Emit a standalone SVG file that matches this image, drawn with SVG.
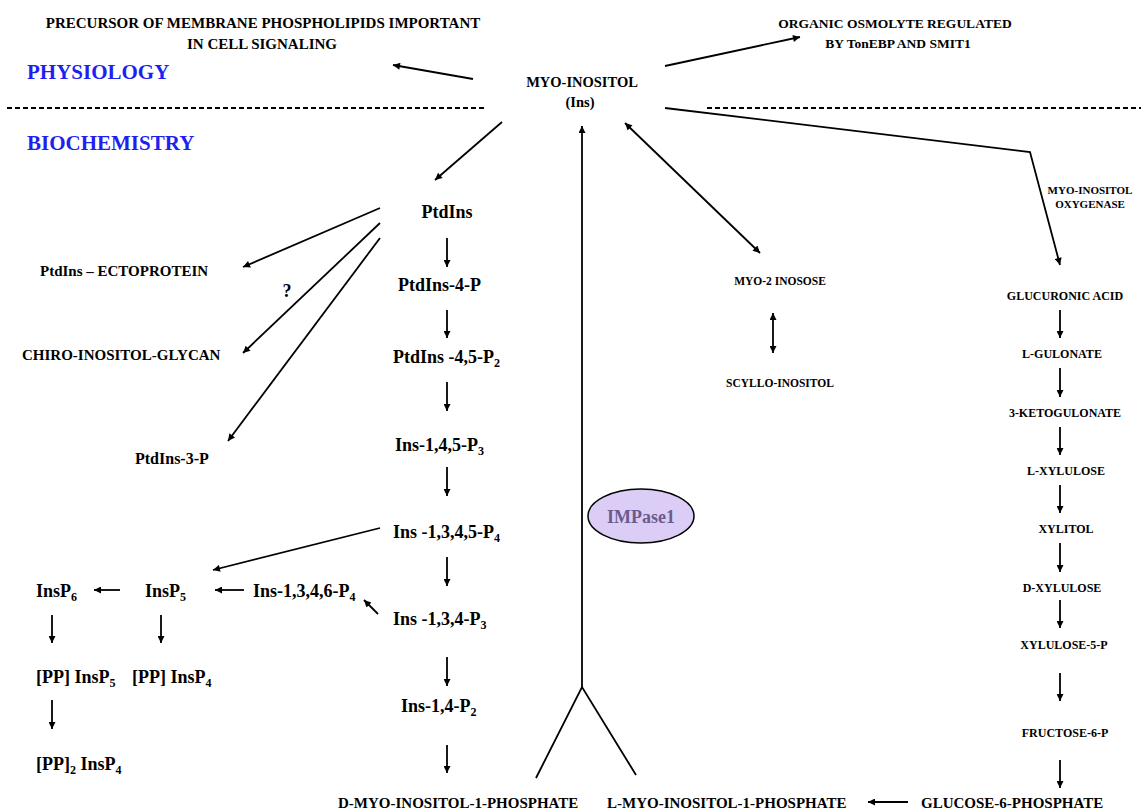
<svg xmlns="http://www.w3.org/2000/svg" width="1141" height="811" viewBox="0 0 1141 811">
<defs>
<marker id="ah" viewBox="0 0 10 10" refX="10" refY="5" markerWidth="9" markerHeight="7" markerUnits="userSpaceOnUse" orient="auto-start-reverse">
<path d="M0,0 L10,5 L0,10 z" fill="#000"/>
</marker>
<style>
text{font-family:"Liberation Serif","Times New Roman",serif;font-weight:bold;fill:#000}
.c{text-anchor:middle}
.big{font-size:18px}
.mid{font-size:15px}
.sm{font-size:12px}
.xs{font-size:11px}
.blue{fill:#1f1ff0;font-size:21px}
.sub{font-size:12px}
.ln{stroke:#000;stroke-width:1.8;fill:none}
.ar{stroke:#000;stroke-width:1.8;fill:none;marker-end:url(#ah)}
.ar2{stroke:#000;stroke-width:1.8;fill:none;marker-end:url(#ah);marker-start:url(#ah)}
.dash{stroke:#000;stroke-width:2;stroke-dasharray:5,3}
</style>
</defs>
<rect width="1141" height="811" fill="#fff"/>

<g id="sections">
<text x="27" y="79" class="blue">PHYSIOLOGY</text>
<text x="27" y="150" class="blue">BIOCHEMISTRY</text>
<line x1="7" y1="108" x2="487" y2="108" class="dash"/>
<line x1="707" y1="108" x2="1141" y2="108" class="dash"/>
</g>

<g id="connectors">
<line x1="473" y1="79" x2="393" y2="65" class="ar"/>
<line x1="665" y1="66" x2="800" y2="37" class="ar"/>
<polyline points="665,108 1030,152 1060,265" class="ar"/>
<line x1="502" y1="122" x2="435" y2="180" class="ar"/>
<line x1="625" y1="123" x2="760" y2="253" class="ar2"/>
<line x1="582" y1="687" x2="582" y2="126" class="ar"/>
<polyline points="536,778 582,687 636,775" class="ln"/>
<line x1="380" y1="208" x2="243" y2="267" class="ar"/>
<line x1="380" y1="223" x2="243" y2="353" class="ar"/>
<line x1="380" y1="238" x2="228" y2="441" class="ar"/>
<line x1="447" y1="238" x2="447" y2="267" class="ar"/>
<line x1="447" y1="310" x2="447" y2="338" class="ar"/>
<line x1="447" y1="382" x2="447" y2="411" class="ar"/>
<line x1="447" y1="467" x2="447" y2="496" class="ar"/>
<line x1="447" y1="557" x2="447" y2="586" class="ar"/>
<line x1="447" y1="657" x2="447" y2="686" class="ar"/>
<line x1="447" y1="745" x2="447" y2="773" class="ar"/>
<line x1="380" y1="528" x2="213" y2="570" class="ar"/>
<line x1="120" y1="590" x2="94" y2="590" class="ar"/>
<line x1="244" y1="590" x2="215" y2="590" class="ar"/>
<line x1="378" y1="614" x2="364" y2="600" class="ar"/>
<line x1="52" y1="615" x2="52" y2="643" class="ar"/>
<line x1="161" y1="615" x2="161" y2="643" class="ar"/>
<line x1="52" y1="700" x2="52" y2="729" class="ar"/>
<line x1="773" y1="313" x2="773" y2="353" class="ar2"/>
<line x1="1060" y1="310" x2="1060" y2="338" class="ar"/>
<line x1="1060" y1="368" x2="1060" y2="397" class="ar"/>
<line x1="1060" y1="427" x2="1060" y2="455" class="ar"/>
<line x1="1060" y1="485" x2="1060" y2="513" class="ar"/>
<line x1="1060" y1="543" x2="1060" y2="572" class="ar"/>
<line x1="1060" y1="600" x2="1060" y2="628" class="ar"/>
<line x1="1060" y1="673" x2="1060" y2="701" class="ar"/>
<line x1="1060" y1="760" x2="1060" y2="788" class="ar"/>
<line x1="908" y1="802" x2="868" y2="802" class="ar"/>
</g>

<g id="precursor"><text x="263" y="28" class="c mid">PRECURSOR OF MEMBRANE PHOSPHOLIPIDS IMPORTANT</text><text x="262" y="49" class="c mid">IN CELL SIGNALING</text></g>
<g id="osmolyte"><text x="895" y="28" class="c" font-size="13.5">ORGANIC OSMOLYTE REGULATED</text><text x="898" y="48" class="c" font-size="13.5">BY TonEBP AND SMIT1</text></g>
<g id="myo-inositol"><text x="582" y="87" class="c" font-size="14.5">MYO-INOSITOL</text><text x="580" y="107" class="c" font-size="14.5">(Ins)</text></g>
<g id="oxygenase"><text x="1090" y="194" class="c xs">MYO-INOSITOL</text><text x="1090" y="208" class="c xs">OXYGENASE</text></g>

<g id="ptdins"><text x="447" y="218" class="c big">PtdIns</text></g>
<g id="ptdins-4-p"><text x="398" y="291" class="big">PtdIns-4-P</text></g>
<g id="ptdins-45-p2"><text x="393" y="363" class="big">PtdIns -4,5-P<tspan class="sub" dy="4">2</tspan></text></g>
<g id="ins-145-p3"><text x="395" y="451" class="big">Ins-1,4,5-P<tspan class="sub" dy="4">3</tspan></text></g>
<g id="ins-1345-p4"><text x="393" y="538" class="big">Ins -1,3,4,5-P<tspan class="sub" dy="4">4</tspan></text></g>
<g id="ins-134-p3"><text x="393" y="625" class="big">Ins -1,3,4-P<tspan class="sub" dy="4">3</tspan></text></g>
<g id="ins-14-p2"><text x="401" y="712" class="big">Ins-1,4-P<tspan class="sub" dy="4">2</tspan></text></g>

<g id="ectoprotein"><text x="40" y="276" class="mid">PtdIns – ECTOPROTEIN</text></g>
<g id="question"><text x="287" y="297" class="c big">?</text></g>
<g id="chiro"><text x="22" y="360" class="mid">CHIRO-INOSITOL-GLYCAN</text></g>
<g id="ptdins-3-p"><text x="135" y="464" font-size="16">PtdIns-3-P</text></g>

<g id="insp6"><text x="36" y="597" class="big">InsP<tspan class="sub" dy="4">6</tspan></text></g>
<g id="insp5"><text x="145" y="597" class="big">InsP<tspan class="sub" dy="4">5</tspan></text></g>
<g id="ins-1346-p4"><text x="253" y="597" class="big">Ins-1,3,4,6-P<tspan class="sub" dy="4">4</tspan></text></g>
<g id="pp-insp5"><text x="36" y="683" class="big">[PP] InsP<tspan class="sub" dy="4">5</tspan></text></g>
<g id="pp-insp4"><text x="132" y="683" class="big">[PP] InsP<tspan class="sub" dy="4">4</tspan></text></g>
<g id="pp2-insp4"><text x="36" y="770" class="big">[PP]<tspan class="sub" dy="4">2</tspan><tspan dy="-4"> InsP</tspan><tspan class="sub" dy="4">4</tspan></text></g>

<g id="d-myo"><text x="338" y="808" class="mid">D-MYO-INOSITOL-1-PHOSPHATE</text></g>
<g id="l-myo"><text x="607" y="808" class="mid">L-MYO-INOSITOL-1-PHOSPHATE</text></g>
<g id="glucose-6-p"><text x="921" y="808" class="mid">GLUCOSE-6-PHOSPHATE</text></g>

<g id="impase1"><ellipse cx="641" cy="516" rx="53" ry="27" fill="#dccdf6" stroke="#000" stroke-width="1.5"/><text x="641" y="523" class="c big" style="fill:#6b5b8e">IMPase1</text></g>

<g id="inosose"><text x="780" y="285" class="c" font-size="11.5">MYO-2 INOSOSE</text></g>
<g id="scyllo"><text x="780" y="387" class="c" font-size="11.5">SCYLLO-INOSITOL</text></g>

<g id="glucuronic"><text x="1065" y="300" class="c sm">GLUCURONIC ACID</text></g>
<g id="l-gulonate"><text x="1062" y="358" class="c sm">L-GULONATE</text></g>
<g id="ketogulonate"><text x="1065" y="417" class="c sm">3-KETOGULONATE</text></g>
<g id="l-xylulose"><text x="1066" y="475" class="c sm">L-XYLULOSE</text></g>
<g id="xylitol"><text x="1066" y="533" class="c sm">XYLITOL</text></g>
<g id="d-xylulose"><text x="1062" y="592" class="c sm">D-XYLULOSE</text></g>
<g id="xylulose-5-p"><text x="1064" y="649" class="c sm">XYLULOSE-5-P</text></g>
<g id="fructose-6-p"><text x="1065" y="737" class="c sm">FRUCTOSE-6-P</text></g>
</svg>
